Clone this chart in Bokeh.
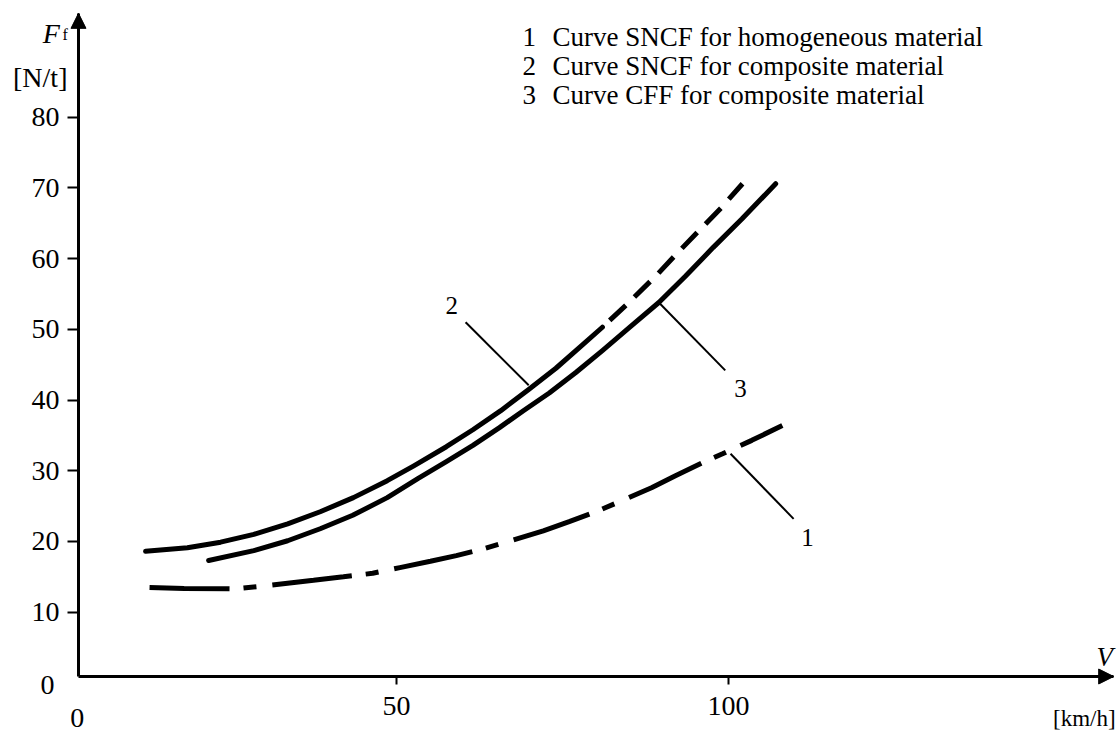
from bokeh.plotting import figure
from bokeh.models import Range1d, FixedTicker, Arrow, NormalHead, Label
from bokeh.core.properties import value
from bokeh.embed import file_html
from bokeh.resources import INLINE

# ---------------- data ----------------
# Curve 1: SNCF, homogeneous material (dash-dot)
v1 = [12.8, 18.0, 25.7, 31.0, 37.5, 42.0, 46.4, 50.5, 55.1, 59.0, 63.2, 67.5,
      72.1, 76.0, 80.0, 84.0, 88.4, 92.0, 96.2, 99.1, 103.5, 108.1]
f1 = [13.5, 13.35, 13.3, 13.8, 14.5, 15.0, 15.5, 16.3, 17.2, 18.0, 19.0, 20.2,
      21.5, 22.8, 24.2, 25.8, 27.6, 29.3, 31.2, 32.4, 34.3, 36.4]

# Curve 2: SNCF, composite material (solid, then dashed above ~81 km/h)
v2 = [12.2, 18.5, 23.5, 28.5, 33.6, 38.5, 43.5, 48.6, 52.6, 57.5, 61.5, 65.7,
      69.9, 74.0, 78.0, 81.0, 85.0, 89.3, 92.5, 95.8, 99.0, 102.1]
f2 = [18.6, 19.1, 19.9, 21.0, 22.5, 24.2, 26.2, 28.6, 30.7, 33.4, 35.8, 38.5,
      41.5, 44.5, 47.8, 50.3, 53.8, 57.8, 61.0, 64.2, 67.3, 70.6]
v2_dash_from = 81.0

# Curve 3: CFF, composite material (solid)
v3 = [21.7, 28.5, 33.6, 38.5, 43.4, 48.6, 53.2, 57.5, 61.5, 65.5, 69.1, 73.0,
      77.0, 81.0, 85.0, 89.5, 93.5, 97.7, 102.0, 107.1]
f3 = [17.3, 18.7, 20.1, 21.8, 23.7, 26.2, 28.9, 31.3, 33.6, 36.1, 38.5, 41.0,
      43.9, 47.0, 50.2, 53.8, 57.5, 61.6, 65.6, 70.6]

y_ticks = [10, 20, 30, 40, 50, 60, 70, 80]
x_ticks = [50, 100]

legend_nums = ["1", "2", "3"]
legend_texts = ["Curve SNCF for homogeneous material",
                "Curve SNCF for composite material",
                "Curve CFF for composite material"]

# curve call-out labels and their leader lines
callout_text = ["1", "2", "3"]
callout_v = [111.9, 58.3, 101.8]
callout_f = [20.6, 53.4, 41.6]
leader_v0 = [100.3, 60.4, 89.5]
leader_f0 = [32.4, 51.0, 53.8]
leader_v1 = [109.8, 69.9, 99.5]
leader_f1 = [23.2, 42.1, 44.2]

# ---------------- figure ----------------
X0, XA = 2.1, 158.0      # x-axis origin and arrow tip
Y0, YA = 0.9, 94.7       # y-axis origin and arrow tip
SERIF = "Liberation Serif"

p = figure(frame_width=1118, frame_height=733,
           x_range=Range1d(-9.647, 158.727), y_range=Range1d(-7.162, 96.516),
           output_backend="svg", toolbar_location=None,
           min_border=0)
p.outline_line_color = None
p.grid.visible = False
p.background_fill_color = "white"
p.border_fill_color = "white"

for ax in (p.xaxis[0], p.yaxis[0]):
    ax.axis_line_width = 3
    ax.axis_line_color = "black"
    ax.major_tick_line_width = 2
    ax.major_tick_line_color = "black"
    ax.major_tick_in = 0
    ax.minor_tick_line_color = None
    ax.major_label_text_font = SERIF
    ax.major_label_text_font_size = "28px"
    ax.major_label_text_color = "black"

p.yaxis.ticker = FixedTicker(ticks=y_ticks)
p.yaxis.major_tick_out = 11
p.yaxis.major_label_standoff = 8
p.yaxis.fixed_location = X0
p.yaxis.bounds = (Y0, YA)

p.xaxis.ticker = FixedTicker(ticks=x_ticks)
p.xaxis.major_tick_out = 8
p.xaxis.major_label_standoff = 12
p.xaxis.fixed_location = Y0
p.xaxis.bounds = (X0, XA)

# axis arrow heads
p.add_layout(Arrow(end=NormalHead(size=15, fill_color="black", line_color="black"),
                   x_start=X0, y_start=YA - 6, x_end=X0, y_end=YA,
                   line_width=3, line_color="black"))
p.add_layout(Arrow(end=NormalHead(size=15, fill_color="black", line_color="black"),
                   x_start=XA - 8, y_start=Y0, x_end=XA, y_end=Y0,
                   line_width=3, line_color="black"))

# ---------------- curves ----------------
p.line(v1, f1, line_width=5, line_color="black",
       line_dash="80 14 13 16", line_cap="butt")

i_split = v2.index(v2_dash_from)
p.line(v2[:i_split + 1], f2[:i_split + 1], line_width=5, line_color="black",
       line_cap="round", line_join="round")
p.line(v2[i_split:], f2[i_split:], line_width=5, line_color="black",
       line_dash="22 12", line_dash_offset=24, line_cap="butt")

p.line(v3, f3, line_width=5, line_color="black", line_cap="round",
       line_join="round")

# leader lines and call-out numbers
p.segment(leader_v0, leader_f0, leader_v1, leader_f1,
          line_width=2, line_color="black")
p.text(callout_v, callout_f, text=callout_text, text_font=value(SERIF),
       text_font_size="25px", text_align="center", text_baseline="middle",
       text_color="black")

# legend block (top right)
leg_f = [91.3, 87.2, 83.1]
p.text([68.97] * 3, leg_f, text=legend_nums, text_font=value(SERIF),
       text_font_size="27px", text_align="left", text_baseline="alphabetic",
       text_color="black")
p.text([73.49] * 3, leg_f, text=legend_texts, text_font=value(SERIF),
       text_font_size="27px", text_align="left", text_baseline="alphabetic",
       text_color="black")

# ---------------- axis titles and origin labels ----------------
def lab(x, y, t, size, align="left", baseline="alphabetic", style="normal"):
    p.add_layout(Label(x=x, y=y, text=t, text_font=SERIF, text_font_size=size,
                       text_align=align, text_baseline=baseline,
                       text_font_style=style, text_color="black"))

lab(-3.3, 91.85, "F", "28px", style="italic")
lab(-0.3, 91.7, "f", "16px")
lab(0.44, 85.6, "[N/t]", "28px", align="right")
lab(-1.5, -0.37, "0", "28px", align="right")
lab(1.9, -4.9, "0", "28px", align="center")
lab(157.9, 3.6, "V", "27px", align="right", style="italic")
lab(158.3, -5.04, "[km/h]", "23px", align="right")

open("out.html", "w").write(file_html(p, INLINE))
